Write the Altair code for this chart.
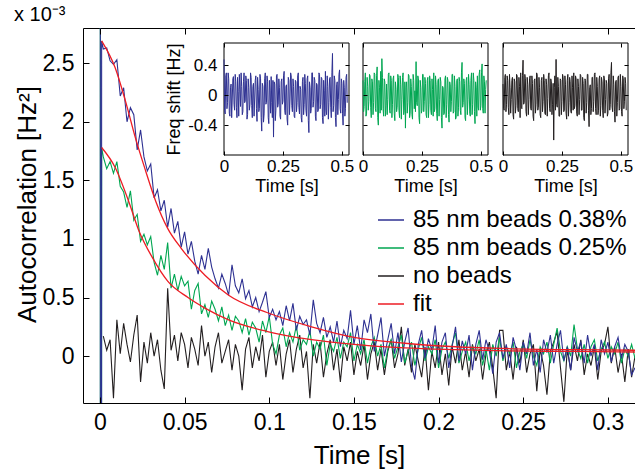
import altair as alt
import pandas as pd

FONT = "Liberation Sans"
BLUE = "#2E3192"
GREEN = "#00A651"
BLACK = "#231F20"
RED = "#ED1C24"

S_BLUE = "85 nm beads 0.38%"
S_GREEN = "85 nm beads 0.25%"
S_BLACK = "no beads"
S_FIT = "fit"

main_xticks = [0, 0.05, 0.1, 0.15, 0.2, 0.25, 0.3]
main_yticks = [0, 0.5, 1, 1.5, 2, 2.5]
inset_xticks = [0, 0.25, 0.5]
inset_yticks = [-0.4, 0, 0.4]

# ---- main panel: autocorrelation (x 1e-3 Hz^2) vs lag (s) ----
lag_head = [0.0, 0.0005, 0.001]
blue_head = [40.0, -40.0, 2.69]
green_head = [30.0, -30.0, 1.78]
lag_grid = [round(0.002 * (i + 1), 3) for i in range(158)]

blue_vals = [
    2.62, 2.63, 2.52, 2.49, 2.53, 2.22, 2.29, 2.00, 2.12, 2.06,
    1.76, 1.93, 1.70, 1.58, 1.64, 1.35, 1.42, 1.24, 1.33, 1.10,
    1.26, 1.05, 1.15, 0.93, 1.06, 0.87, 0.98, 0.81, 0.70, 0.86,
    0.74, 0.92, 0.76, 0.66, 0.58, 0.70, 0.62, 0.52, 0.78, 0.60,
    0.54, 0.66, 0.49, 0.56, 0.42, 0.50, 0.38, 0.46, 0.55, 0.33,
    0.40, 0.31, 0.38, 0.26, 0.43, 0.30, 0.45, 0.22, 0.34, 0.27,
    0.31, 0.18, 0.48, 0.28, 0.20, 0.33, 0.16, 0.25, 0.12, 0.30,
    0.08, 0.22, 0.15, 0.39, 0.10, 0.26, 0.05, 0.31, 0.20, 0.36,
    0.04, 0.18, 0.33, 0.00, 0.14, 0.28, 0.02, 0.20, -0.05, 0.12,
    0.24, -0.08, -0.20, 0.10, 0.22, -0.02, 0.15, 0.05, 0.26, -0.06,
    0.12, 0.20, -0.10, 0.08, 0.25, -0.04, 0.13, 0.02, 0.18, -0.12,
    0.10, 0.22, -0.03, 0.14, 0.04, -0.15, 0.12, 0.20, -0.02, 0.10,
    -0.10, 0.16, 0.05, -0.12, 0.12, 0.02, 0.20, -0.08, 0.06, -0.14,
    0.14, 0.03, 0.18, -0.06, 0.10, 0.22, -0.04, 0.08, -0.12, 0.16,
    0.04, 0.12, -0.06, 0.18, 0.00, 0.10, -0.12, 0.14, 0.02, 0.12,
    -0.05, 0.08, 0.16, -0.02, 0.10, 0.04, -0.16, -0.10,
]

green_vals = [
    1.70, 1.60, 1.66, 1.56, 1.66, 1.45, 1.40, 1.27, 1.41, 1.16,
    1.21, 0.98, 1.04, 0.95, 1.02, 0.80, 0.69, 0.86, 0.74, 0.97,
    0.58, 0.70, 0.56, 0.68, 0.60, 0.64, 0.40, 0.56, 0.62, 0.36,
    0.44, 0.33, 0.47, 0.40, 0.30, 0.42, 0.26, 0.35, 0.22, 0.34,
    0.30, 0.20, 0.32, 0.18, 0.29, 0.24, 0.12, 0.30, 0.20, 0.34,
    0.10, 0.02, 0.18, 0.24, 0.08, 0.20, 0.12, 0.26, 0.05, 0.14,
    0.10, 0.22, 0.00, 0.12, 0.06, 0.18, -0.08, 0.10, 0.04, 0.16,
    -0.02, 0.12, 0.08, 0.20, -0.04, 0.10, 0.02, 0.14, -0.06, 0.08,
    0.16, 0.00, 0.10, -0.10, 0.06, 0.14, -0.02, 0.08, 0.18, -0.06,
    0.04, 0.12, -0.08, 0.06, 0.16, -0.04, 0.08, 0.02, 0.14, -0.10,
    0.06, 0.12, -0.02, 0.10, 0.20, -0.06, 0.04, 0.12, -0.04, 0.08,
    0.02, 0.14, -0.08, 0.06, -0.12, 0.10, 0.00, 0.16, -0.04, 0.08,
    0.02, 0.12, -0.10, 0.04, 0.10, -0.02, 0.14, 0.00, -0.08, 0.08,
    0.02, 0.12, -0.06, 0.10, 0.24, 0.04, -0.04, 0.08, 0.00, 0.27,
    0.06, -0.02, 0.10, -0.06, 0.08, 0.14, -0.04, 0.06, 0.12, -0.02,
    0.08, 0.02, 0.12, -0.06, 0.06, 0.00, 0.10, -0.02,
]

black_vals = [
    0.17, 0.05, 0.14, -0.36, 0.31, 0.02, 0.28, 0.10, -0.05, 0.18,
    0.35, -0.22, 0.12, -0.06, 0.20, 0.00, 0.14, -0.12, -0.28, 0.58,
    0.05, 0.18, -0.04, 0.20, 0.10, -0.10, 0.16, 0.06, -0.08, 0.26,
    0.00, 0.12, -0.14, 0.08, 0.20, -0.06, 0.04, 0.14, -0.12, 0.10,
    0.00, -0.29, 0.06, 0.16, -0.10, 0.08, -0.04, 0.18, -0.18, 0.04,
    0.12, -0.08, 0.10, -0.20, 0.02, 0.14, -0.14, 0.06, 0.18, -0.10,
    0.04, -0.36, 0.10, -0.06, 0.12, -0.18, 0.02, 0.14, -0.12, 0.06,
    -0.22, 0.08, -0.04, 0.12, -0.16, 0.04, -0.08, 0.10, -0.20, 0.02,
    0.12, -0.12, 0.06, -0.16, 0.04, 0.14, -0.10, 0.02, 0.25, -0.08,
    0.06, -0.14, 0.10, -0.04, -0.18, 0.08, -0.29, 0.04, -0.10, 0.12,
    -0.16, 0.02, -0.25, 0.08, -0.06, 0.14, -0.12, 0.04, -0.18, 0.10,
    -0.04, 0.06, -0.20, 0.02, 0.12, -0.10, -0.36, 0.22, 0.22, -0.12,
    0.04, -0.20, 0.08, -0.06, 0.14, -0.14, 0.02, 0.10, -0.30, 0.06,
    -0.08, -0.33, 0.04, 0.12, 0.21, -0.10, -0.39, 0.06, -0.12, 0.10,
    -0.04, 0.14, -0.16, 0.02, -0.08, 0.08, -0.20, 0.04, 0.10, 0.25,
    -0.06, 0.08, -0.14, 0.02, -0.22, 0.06, -0.18, 0.00,
]

fit_blue_lag = [0.001, 0.009, 0.015, 0.021, 0.027, 0.033, 0.040, 0.048, 0.062,
                0.076, 0.099, 0.125, 0.150, 0.180, 0.210, 0.240, 0.280, 0.316]
fit_blue_vals = [2.69, 2.46, 2.18, 1.86, 1.58, 1.32, 1.09, 0.92, 0.69,
                 0.52, 0.37, 0.25, 0.16, 0.11, 0.08, 0.065, 0.055, 0.05]
fit_green_lag = [0.001, 0.009, 0.017, 0.023, 0.031, 0.040, 0.052, 0.062, 0.076,
                 0.099, 0.125, 0.150, 0.180, 0.210, 0.240, 0.280, 0.316]
fit_green_vals = [1.78, 1.61, 1.32, 1.07, 0.84, 0.64, 0.50, 0.41, 0.31,
                  0.21, 0.14, 0.10, 0.07, 0.055, 0.045, 0.04, 0.035]

# ---- insets: frequency shift (Hz) vs time (s), two interleaved sample sets ----
inset_time = [round(0.005 * i, 4) for i in range(105)]
inset_time_b = [round(0.005 * i + 0.0025, 4) for i in range(105)]
inset_blue = [
    0.48, -0.25, 0.30, -0.10, 0.22, -0.28, 0.15, -0.05, 0.25, -0.20,
    0.18, -0.30, 0.05, 0.28, -0.15, 0.12, -0.22, 0.30, -0.08, 0.20,
    -0.26, 0.10, -0.12, 0.24, -0.30, 0.16, -0.05, 0.26, -0.35, 0.08,
    -0.18, 0.22, -0.48, 0.12, -0.25, 0.30, -0.10, 0.18, -0.38, 0.06,
    0.25, -0.30, -0.56, 0.15, -0.20, 0.28, -0.12, 0.10, -0.32, 0.22,
    -0.08, 0.32, -0.26, 0.14, -0.40, 0.20, -0.05, 0.26, -0.22, 0.12,
    -0.30, 0.18, -0.10, 0.30, -0.25, 0.08, -0.36, 0.24, -0.12, 0.16,
    -0.28, 0.26, -0.50, 0.10, -0.18, 0.30, -0.08, 0.20, -0.34, 0.14,
    -0.20, 0.28, -0.12, 0.22, -0.38, 0.06, 0.32, -0.26, 0.12, -0.10,
    0.24, -0.30, 0.56, -0.14, 0.20, -0.42, 0.18, -0.06, 0.34, -0.24,
    0.16, -0.40, 0.10, -0.18, 0.28,
]
inset_blue_b = [
    -0.20, 0.26, -0.18, 0.30, -0.24, 0.10, -0.30, 0.22, -0.12, 0.28,
    -0.16, 0.24, -0.28, 0.08, 0.30, -0.26, 0.18, -0.10, 0.26, -0.32,
    0.22, -0.20, 0.30, -0.14, 0.12, -0.28, 0.20, -0.18, 0.24, -0.22,
    0.28, -0.30, 0.16, -0.36, 0.22, -0.12, 0.26, -0.30, 0.20, -0.24,
    -0.10, 0.20, 0.18, -0.34, 0.26, -0.16, 0.22, -0.28, 0.18, -0.12,
    0.26, -0.20, 0.12, -0.32, 0.24, -0.26, 0.30, -0.14, 0.22, -0.28,
    0.20, -0.22, 0.26, -0.16, 0.12, -0.30, 0.18, -0.26, 0.28, -0.20,
    0.22, -0.34, 0.18, -0.24, 0.30, -0.16, 0.24, -0.28, 0.16, -0.22,
    0.30, -0.18, 0.24, -0.30, 0.20, -0.28, -0.20, 0.26, -0.32, 0.22,
    -0.16, 0.30, -0.22, 0.26, -0.30, 0.14, -0.26, 0.28, -0.18, 0.22,
    -0.24, 0.20, -0.28, 0.24, -0.10,
]
inset_green = [
    0.20, -0.15, 0.30, -0.25, 0.12, -0.08, 0.26, -0.30, 0.18, -0.10,
    0.28, -0.22, 0.38, -0.40, 0.10, 0.32, 0.49, -0.18, 0.22, -0.28,
    0.15, -0.06, 0.30, -0.24, 0.20, -0.12, 0.26, -0.34, 0.08, -0.16,
    0.24, -0.30, 0.14, -0.06, 0.30, -0.20, -0.44, 0.18, -0.10, 0.26,
    -0.24, 0.12, -0.32, 0.20, 0.06, 0.45, -0.14, 0.22, -0.38, 0.10,
    -0.20, 0.28, -0.08, 0.16, -0.30, 0.24, -0.12, 0.20, -0.26, 0.08,
    0.30, -0.18, 0.14, -0.34, 0.22, -0.06, 0.18, -0.44, 0.10, -0.24,
    0.26, -0.12, 0.20, -0.36, 0.14, -0.08, 0.28, -0.22, 0.12, -0.30,
    0.22, -0.16, 0.18, -0.26, 0.44, -0.10, 0.16, -0.34, 0.24, -0.06,
    0.14, -0.28, 0.30, -0.12, 0.20, -0.38, 0.10, 0.26, -0.20, 0.34,
    -0.14, 0.42, -0.24, 0.18, 0.08,
]
inset_green_b = [
    -0.22, 0.18, -0.28, 0.24, -0.20, 0.28, -0.16, 0.22, -0.26, 0.30,
    -0.18, 0.26, -0.30, 0.20, -0.24, -0.20, 0.24, -0.28, 0.18, -0.14,
    -0.26, 0.28, -0.20, 0.26, -0.30, 0.22, -0.24, 0.18, -0.22, 0.28,
    -0.20, 0.26, -0.32, 0.24, -0.26, 0.18, 0.10, -0.24, 0.28, -0.30,
    0.22, -0.26, 0.28, -0.18, -0.22, -0.10, 0.26, -0.30, 0.20, -0.24,
    0.28, -0.22, 0.24, -0.26, 0.20, -0.30, 0.26, -0.20, 0.22, -0.28,
    -0.22, 0.26, -0.24, 0.20, -0.28, 0.24, -0.30, 0.12, -0.26, 0.22,
    -0.30, 0.24, -0.26, 0.18, -0.22, 0.28, -0.24, 0.26, -0.32, 0.20,
    -0.28, 0.24, -0.20, 0.30, -0.16, 0.22, -0.30, 0.20, -0.26, 0.28,
    -0.24, 0.20, -0.26, 0.30, -0.22, 0.18, -0.28, -0.16, 0.28, -0.20,
    0.30, -0.18, 0.26, -0.24, 0.20,
]
inset_black = [
    0.15, -0.20, 0.28, -0.12, 0.20, -0.26, 0.10, -0.06, 0.24, -0.32,
    0.18, -0.14, 0.26, -0.22, 0.12, 0.30, -0.18, 0.47, -0.10, 0.22,
    -0.28, 0.14, -0.06, 0.26, -0.20, 0.16, -0.34, 0.22, -0.12, 0.28,
    -0.16, 0.10, -0.30, 0.24, -0.08, 0.20, -0.26, 0.14, -0.04, 0.30,
    -0.22, 0.18, -0.12, -0.60, 0.26, 0.48, -0.16, 0.12, -0.28, 0.20,
    -0.08, 0.24, -0.20, 0.14, -0.32, 0.28, -0.10, 0.18, -0.24, 0.10,
    0.30, -0.14, 0.22, -0.28, 0.12, -0.06, 0.26, -0.20, 0.16, -0.34,
    0.20, -0.10, 0.28, -0.42, 0.14, -0.18, 0.24, -0.08, 0.30, -0.26,
    0.12, -0.20, 0.26, -0.14, 0.18, -0.30, 0.22, -0.06, 0.16, -0.24,
    0.28, -0.12, 0.44, -0.22, 0.14, -0.36, 0.20, -0.10, 0.26, -0.18,
    0.12, -0.28, 0.22, -0.08, 0.16,
]
inset_black_b = [
    -0.18, 0.24, -0.22, 0.26, -0.16, 0.28, -0.24, 0.20, -0.26, 0.22,
    -0.24, 0.28, -0.18, 0.24, -0.30, -0.16, 0.26, -0.12, 0.28, -0.22,
    0.24, -0.26, 0.22, -0.18, 0.26, -0.28, 0.20, -0.24, 0.30, -0.20,
    0.24, -0.26, 0.20, -0.22, 0.28, -0.24, 0.22, -0.28, 0.26, -0.18,
    0.22, -0.26, 0.16, 0.10, -0.20, -0.12, 0.24, -0.28, 0.22, -0.26,
    0.28, -0.22, 0.26, -0.24, 0.20, -0.28, 0.24, -0.22, 0.26, -0.20,
    -0.18, 0.26, -0.24, 0.22, -0.26, 0.28, -0.20, 0.24, -0.30, 0.22,
    -0.24, 0.28, -0.20, 0.10, -0.26, 0.24, -0.22, 0.28, -0.18, 0.24,
    -0.26, 0.22, -0.28, 0.24, -0.20, 0.26, -0.24, 0.20, -0.28, 0.22,
    -0.20, 0.30, -0.16, 0.26, -0.22, 0.18, -0.28, 0.24, -0.20, 0.28,
    -0.22, 0.26, -0.18, 0.24, -0.20,
]
inset_x_extent = [0.0, 0.53]
inset_y_extent = [-0.8, 0.7]

# ---- layout (pixels) ----
W, H = 552, 375
PAD_L, PAD_T = 83, 28
INSET_LEFT = [141, 280, 420]
INSET_W = 125
INSET_TOP, INSET_BOT = 15, 127
MT = 6   # main tick length
IT = 4   # inset tick length


def tick_axis(orient, values, offset, size):
    return alt.Axis(orient=orient, values=values, labels=False, domain=False,
                    tickSize=size, offset=offset, title=None, grid=False, zindex=1)


# ================= main panel =================
color_scale = alt.Scale(domain=[S_BLUE, S_GREEN, S_BLACK, S_FIT],
                        range=[BLUE, GREEN, BLACK, RED])
legend = alt.Legend(orient="none", legendX=294, legendY=178, title=None,
                    symbolType="stroke", symbolSize=676, symbolStrokeWidth=1.5,
                    labelFontSize=24, labelFont=FONT, labelColor="#000",
                    labelOffset=8, labelLimit=0, rowPadding=2, padding=0)

xs = alt.Scale(domain=[-0.01, 0.316], nice=False, zero=False)
ys = alt.Scale(domain=[-0.4, 2.8], nice=False, zero=False)

ax_main_x = alt.Axis(orient="bottom", values=main_xticks,
                     labelExpr="format(datum.value, '~g')", labelFlush=False,
                     labelOverlap=False, labelFontSize=23, labelPadding=8, ticks=False,
                     domain=True, title="Time [s]", titleFontSize=26,
                     titleY=60, titleBaseline="alphabetic")
ax_main_y = alt.Axis(orient="left", values=main_yticks,
                     labelExpr="format(datum.value, '~g')", labelFontSize=23,
                     labelPadding=9, ticks=False, domain=True,
                     title="Autocorrelation [Hz²]", titleFontSize=26,
                     titleAngle=270, titleX=-48, titleY=176, titleAlign="center",
                     titleBaseline="alphabetic")
ax_main_top = alt.Axis(orient="top", values=main_xticks, labels=False, ticks=False,
                       domain=True, title=None)

df_black = pd.DataFrame({"lag": lag_grid, "acf": black_vals, "series": S_BLACK})
df_green = pd.DataFrame({"lag": lag_head + lag_grid, "acf": green_head + green_vals,
                         "series": S_GREEN})
df_blue = pd.DataFrame({"lag": lag_head + lag_grid, "acf": blue_head + blue_vals,
                        "series": S_BLUE})
df_fit = pd.concat([
    pd.DataFrame({"lag": fit_blue_lag, "acf": fit_blue_vals, "curve": "a", "series": S_FIT}),
    pd.DataFrame({"lag": fit_green_lag, "acf": fit_green_vals, "curve": "b", "series": S_FIT}),
], ignore_index=True)

col = alt.Color("series:N", scale=color_scale, legend=legend)

l_black = alt.Chart(df_black).mark_line(strokeWidth=1.1, clip=True).encode(
    x=alt.X("lag:Q", scale=xs, axis=ax_main_x),
    y=alt.Y("acf:Q", scale=ys, axis=ax_main_y),
    color=col)
l_green = alt.Chart(df_green).mark_line(strokeWidth=1.1, clip=True).encode(
    x=alt.X("lag:Q", scale=xs, axis=tick_axis("bottom", main_xticks, -MT, MT)),
    y=alt.Y("acf:Q", scale=ys, axis=tick_axis("left", main_yticks, -MT, MT)),
    color=col)
l_blue = alt.Chart(df_blue).mark_line(strokeWidth=1.1, clip=True).encode(
    x=alt.X("lag:Q", scale=xs, axis=ax_main_top),
    y=alt.Y("acf:Q", scale=ys, axis=None),
    color=col)
l_fit = alt.Chart(df_fit).mark_line(strokeWidth=1.3, clip=True, interpolate="monotone").encode(
    x=alt.X("lag:Q", scale=xs, axis=tick_axis("top", main_xticks, -MT, MT)),
    y=alt.Y("acf:Q", scale=ys, axis=None),
    color=col,
    detail="curve:N")

# ================= insets (own scales, placed inside the main frame) =================
box_df = pd.DataFrame({"t0": [inset_x_extent[0]], "t1": [inset_x_extent[1]],
                       "f0": [inset_y_extent[0]], "f1": [inset_y_extent[1]]})


def inset_layers(k, vals, vals_b, color, show_y):
    left = INSET_LEFT[k]
    xsi = alt.Scale(domain=inset_x_extent, range=[left, left + INSET_W], nice=False, zero=False)
    ysi = alt.Scale(domain=inset_y_extent, range=[INSET_BOT, INSET_TOP], nice=False, zero=False)
    ax_x = alt.Axis(orient="bottom", values=inset_xticks,
                    labelExpr="format(datum.value, '~g')", labelFlush=False,
                    labelOverlap=False, labelFontSize=17, labelPadding=3, ticks=False,
                    domain=False, title="Time [s]", titleFontSize=18,
                    titleY=36, titleBaseline="alphabetic",
                    offset=-(H - INSET_BOT), zindex=1)
    if show_y:
        ax_y = alt.Axis(orient="left", values=inset_yticks,
                        labelExpr="datum.value < 0 ? '-' + format(-datum.value, '~g') : format(datum.value, '~g')",
                        labelFontSize=17, labelPadding=7, ticks=False, domain=False,
                        title="Freq shift [Hz]", titleFontSize=18, titleAngle=270,
                        titleX=-45, titleY=(INSET_TOP + INSET_BOT) / 2, titleAlign="center",
                        titleBaseline="alphabetic", offset=-left, zindex=1)
        y_box = alt.Y("f0:Q", scale=ysi, axis=ax_y)
    else:
        y_box = alt.Y("f0:Q", scale=ysi, axis=None)
    box = alt.Chart(box_df).mark_rect(fill="white", stroke="#000", strokeWidth=1).encode(
        x=alt.X("t0:Q", scale=xsi, axis=ax_x), x2="t1:Q", y=y_box, y2="f1:Q")
    df = pd.DataFrame({"t": inset_time + inset_time_b, "f": vals + vals_b})
    line = alt.Chart(df).mark_line(color=color, strokeWidth=1).encode(
        x=alt.X("t:Q", scale=xsi,
                axis=tick_axis("bottom", inset_xticks, -(H - INSET_BOT) - IT, IT)),
        y=alt.Y("f:Q", scale=ysi, axis=tick_axis("left", inset_yticks, -left - IT, IT)))
    marks = alt.Chart(box_df).mark_point(opacity=0).encode(
        x=alt.X("t0:Q", scale=xsi, axis=tick_axis("top", inset_xticks, -INSET_TOP - IT, IT)),
        y=alt.Y("f0:Q", scale=ysi,
                axis=tick_axis("right", inset_yticks, -(W - left - INSET_W) - IT, IT)))
    return [box, line, marks]


layers = [l_black, l_green, l_blue, l_fit]
layers += inset_layers(0, inset_blue, inset_blue_b, BLUE, True)
layers += inset_layers(1, inset_green, inset_green_b, GREEN, False)
layers += inset_layers(2, inset_black, inset_black_b, BLACK, False)

chart = alt.layer(*layers).resolve_scale(
    x="independent", y="independent"
).resolve_axis(
    x="independent", y="independent"
).properties(
    width=W, height=H,
    autosize=alt.AutoSizeParams(type="none"),
    padding={"left": PAD_L, "top": PAD_T, "right": 635 - PAD_L - W, "bottom": 472 - PAD_T - H},
    title=alt.TitleParams("x 10⁻³", anchor="start", fontSize=20, font=FONT,
                          fontWeight="normal", color="#000", offset=3),
).configure(font=FONT).configure_axis(
    grid=False, domainColor="#000", tickColor="#000", labelColor="#000",
    titleColor="#000", titleFontWeight="normal", domainWidth=1, tickWidth=1,
    labelFont=FONT, titleFont=FONT
).configure_view(strokeOpacity=0)

chart.save("out.html", embed_options={"renderer": "svg", "actions": False})
